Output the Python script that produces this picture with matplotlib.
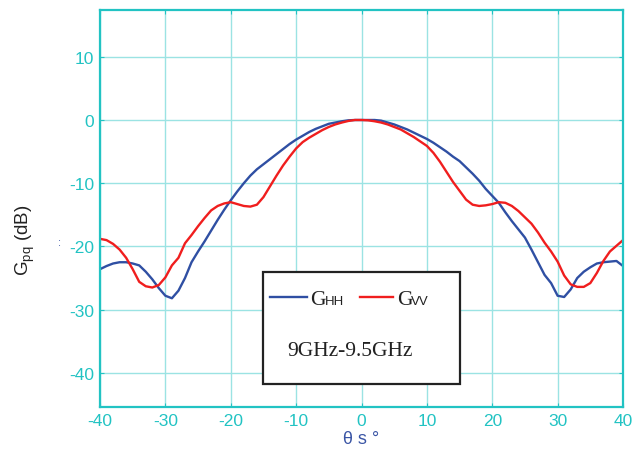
import numpy as np
import matplotlib.pyplot as plt
from matplotlib.patches import Rectangle
from matplotlib.lines import Line2D

plt.rcParams['mathtext.fontset'] = 'custom'
plt.rcParams['mathtext.rm'] = 'Liberation Sans'
plt.rcParams['font.family'] = 'Liberation Sans'
plt.rcParams['axes.unicode_minus'] = False

# scattering angle (deg)
theta = np.arange(-40, 41, 1)

# G_HH (dB)
g_hh = [-23.6, -23.1, -22.7, -22.5, -22.5, -22.7, -23.0, -24.0, -25.2, -26.6,
        -27.8, -28.2, -27.0, -25.0, -22.5, -20.8, -19.2, -17.5, -15.8, -14.2,
        -12.7, -11.3, -10.0, -8.8, -7.8, -7.0, -6.2, -5.4, -4.6, -3.8,
        -3.1, -2.5, -1.9, -1.4, -1.0, -0.6, -0.4, -0.2, -0.05, 0.0,
        0.0,
        0.0, 0.0, -0.1, -0.4, -0.7, -1.1, -1.5, -2.0, -2.5, -3.0,
        -3.6, -4.3, -5.0, -5.8, -6.5, -7.5, -8.5, -9.6, -10.9, -12.0,
        -13.1, -14.6, -16.0, -17.3, -18.6, -20.5, -22.5, -24.5, -25.8, -27.8,
        -28.0, -26.8, -25.0, -24.0, -23.3, -22.7, -22.5, -22.4, -22.3, -23.1]

# G_VV (dB)
g_vv = [-18.8, -19.0, -19.6, -20.5, -21.8, -23.6, -25.6, -26.3, -26.5, -26.1,
        -24.9, -23.0, -21.8, -19.5, -18.2, -16.8, -15.5, -14.3, -13.6, -13.2,
        -13.0, -13.3, -13.6, -13.7, -13.4, -12.2, -10.5, -8.8, -7.2, -5.8,
        -4.5, -3.5, -2.8, -2.2, -1.6, -1.1, -0.7, -0.4, -0.15, 0.0,
        0.0,
        -0.05, -0.2, -0.4, -0.7, -1.1, -1.5, -2.1, -2.7, -3.4, -4.1,
        -5.2, -6.6, -8.2, -9.8, -11.2, -12.6, -13.4, -13.6, -13.5, -13.3,
        -13.0, -13.1, -13.6, -14.4, -15.4, -16.4, -17.8, -19.4, -20.8, -22.4,
        -24.6, -26.0, -26.4, -26.4, -25.8, -24.2, -22.3, -20.8, -19.9, -19.0]

xticks = np.arange(-40, 41, 10)
yticks = np.arange(-40, 11, 10)

W, H = 633, 452
fig = plt.figure(figsize=(W / 100, H / 100), dpi=100)
ax = fig.add_axes([100 / W, 1 - 408 / H, 523 / W, 397 / H])

cyan = '#22c3c3'
ax.plot(theta, g_hh, color='#2f4fa3', lw=1.7)
ax.plot(theta, g_vv, color='#f01e1e', lw=1.7)

ax.set_xlim(-40, 40)
ax.set_ylim(-45.4, 17.4)
ax.set_xticks(xticks)
ax.set_yticks(yticks)
ax.grid(True, color='#9be3e3', lw=1.0)
ax.set_axisbelow(True)
for s in ax.spines.values():
    s.set_color(cyan)
    s.set_linewidth(1.6)
ax.tick_params(direction='in', length=3, color=cyan, labelcolor=cyan,
               labelsize=12.5, top=True, right=True, pad=4)

ax.set_xlabel('θ s °', color='#3a55a5', fontsize=13, labelpad=2)
ax.set_ylabel(r'G$_{\rm pq}$ (dB)', color='#222222', fontsize=13.5)
ax.yaxis.set_label_coords(-0.12, 0.423)


def px(x, y):
    return x / W, 1 - y / H


# legend box
x0, y0 = px(263, 385)
x1, y1 = px(460, 273)
fig.add_artist(Rectangle((x0, y0), x1 - x0, y1 - y0, transform=fig.transFigure,
                         facecolor='white', edgecolor='#222222', lw=1.6, zorder=5))
lx = [px(270, 0)[0], px(307, 0)[0]]
ly = [px(0, 298)[1]] * 2
fig.add_artist(Line2D(lx, ly, transform=fig.transFigure, color='#2f4fa3', lw=1.7, zorder=6))
lx = [px(360, 0)[0], px(393, 0)[0]]
fig.add_artist(Line2D(lx, ly, transform=fig.transFigure, color='#f01e1e', lw=1.7, zorder=6))

fig.text(*px(310, 305), 'G', family='Liberation Serif', fontsize=15.5, color='#222222', zorder=7)
fig.text(*px(325, 305), 'HH', family='Liberation Sans', fontsize=9.5, color='#222222', zorder=7)
fig.text(*px(397, 305), 'G', family='Liberation Serif', fontsize=15.5, color='#222222', zorder=7)
fig.text(*px(411, 305), 'VV', family='Liberation Sans', fontsize=9.5, color='#222222', zorder=7)
fig.text(*px(287, 356), '9GHz-9.5GHz', family='Liberation Serif', fontsize=15.5,
         color='#222222', zorder=7)

# small stray marks left of the axis
fig.text(*px(60, 243), ':', fontsize=8, color='#3a55a5', ha='center', va='center')

fig.savefig('out.png', dpi=100)
